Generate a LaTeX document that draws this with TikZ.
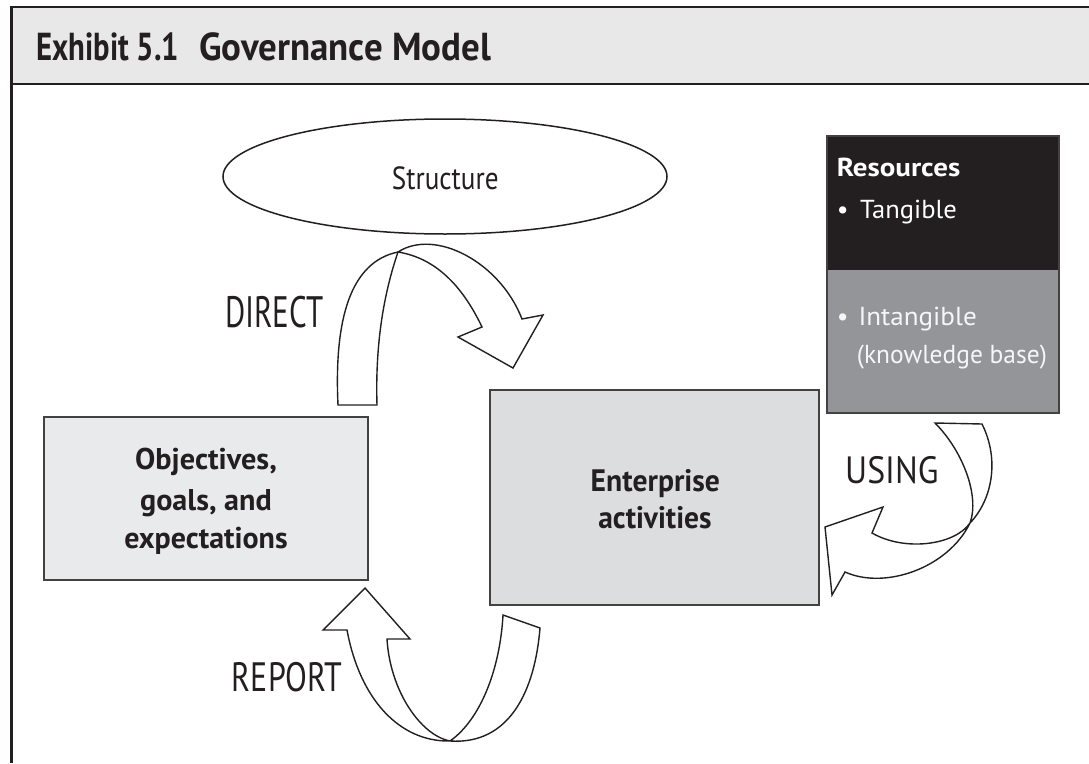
\documentclass[tikz,border=0pt]{standalone}
\usepackage{graphicx}
\usepackage{fontspec}
\setmainfont{PT Sans}
\usetikzlibrary{shapes.geometric}
\definecolor{ink}{HTML}{231F20}
\definecolor{hdr}{HTML}{E8E8E8}
\definecolor{objfill}{HTML}{E9EAEC}
\definecolor{entfill}{HTML}{DCDDDF}
\definecolor{resdark}{HTML}{231F20}
\definecolor{resgray}{HTML}{939598}
\newcommand{\fitw}[2]{\resizebox{#1}{\height}{#2}}
\begin{document}
\begin{tikzpicture}[x=1pt,y=-1pt,
  boxnode/.style={draw=ink!85, line width=2pt, inner sep=0pt, align=center, text=ink},
  boxtext/.style={anchor=base, inner sep=0pt, text=ink, font=\bfseries\fontsize{30}{30}\selectfont},
  blockarrow/.style={draw=ink, line width=1.4pt, fill=white, line join=miter},
  lbl/.style={anchor=base west, inner sep=0pt, text=ink},
  restext/.style={anchor=base west, inner sep=0pt, text=white, font=\fontsize{26}{26}\selectfont}]
\useasboundingbox (0,0) rectangle (1089,763);
% frame and header
\fill[hdr] (11.4,7) rectangle (1089,83.7);
\draw[ink, line width=2.2pt] (1089,7) -- (11.4,7) -- (11.4,763);
\draw[ink, line width=2pt] (11.4,83.7) -- (1089,83.7);
\node[lbl, font=\bfseries\fontsize{39}{39}\selectfont] (t1) at (36.2,60.3) {\fitw{142.8pt}{Exhibit 5.1}};
\node[lbl, font=\bfseries\fontsize{39}{39}\selectfont] (t2) at (199,60.3) {\fitw{291.7pt}{Governance Model}};
% structure ellipse
\node[ellipse, draw=ink, line width=1.5pt, fill=white, minimum width=444pt, minimum height=115pt, inner sep=0pt] (st) at (445,176.5) {};
\node[lbl, font=\fontsize{32}{32}\selectfont] (stl) at (391.7,189) {\fitw{106.7pt}{Structure}};
% resources
\fill[resdark] (827,136) rectangle (1059,270);
\fill[resgray] (827,270) rectangle (1059,413);
\draw[ink!85, line width=2pt] (827,136) rectangle (1059,413);
\coordinate (res) at (943,275);
\node[restext, font=\bfseries\fontsize{26}{26}\selectfont] (r1) at (836.7,176.7) {\fitw{123.3pt}{Resources}};
\node[restext] (r2) at (836.7,218.3) {\makebox[23.3pt][l]{•}\fitw{96.7pt}{Tangible}};
\node[restext, text=white!93!gray] (r3) at (836.7,325) {\makebox[21.6pt][l]{•}\fitw{118.3pt}{Intangible}};
\node[restext, text=white!93!gray] (r4) at (856.7,363.3) {\fitw{190pt}{(knowledge base)}};
% boxes
\node[boxnode, fill=objfill, minimum width=324pt, minimum height=163pt] (obj) at (206,498.5) {};
\node[boxtext] (o1) at (206,469.3) {\fitw{141.7pt}{Objectives,}};
\node[boxtext] (o2) at (206,510.7) {\fitw{131.7pt}{goals, and}};
\node[boxtext] (o3) at (206,548.3) {\fitw{163.3pt}{expectations}};
\node[boxnode, fill=entfill, minimum width=329pt, minimum height=215pt] (ent) at (654.5,497.5) {};
\node[boxtext, font=\bfseries\fontsize{31}{31}\selectfont] (e1) at (655.3,491.7) {\fitw{129.3pt}{Enterprise}};
\node[boxtext, font=\bfseries\fontsize{31}{31}\selectfont] (e2) at (655,528.3) {\fitw{113.3pt}{activities}};
% DIRECT arrow
\draw[blockarrow] (338,405) .. controls (334,320) and (350,262) .. (398,252)
  .. controls (435,228) and (500,262) .. (522,319) -- (543,315) -- (513,368) -- (458,337) -- (482,327)
  .. controls (462,285) and (435,258) .. (398,252)
  .. controls (385,290) and (375,340) .. (377,405) -- cycle;
% USING arrow
\draw[blockarrow] (935,423) -- (982,424) .. controls (1000,460) and (992,500) .. (970,523)
  .. controls (948,568) and (885,590) .. (845,572) -- (832,595) -- (825,527) -- (883,507) -- (872,533)
  .. controls (905,552) and (955,545) .. (970,523)
  .. controls (980,495) and (962,450) .. (935,423) -- cycle;
% REPORT arrow
\draw[blockarrow] (503,615) -- (540,628) .. controls (535,690) and (510,745) .. (450,741)
  .. controls (400,742) and (360,700) .. (347,630) -- (323,630) -- (365,588) -- (410,639) -- (387,639)
  .. controls (390,690) and (420,735) .. (450,741)
  .. controls (480,720) and (500,670) .. (503,615) -- cycle;
% labels
\node[lbl, font=\fontsize{44}{44}\selectfont] (direct) at (225,327) {\fitw{98.3pt}{DIRECT}};
\node[lbl, font=\fontsize{38}{38}\selectfont] (using) at (845,483.3) {\fitw{93.3pt}{USING}};
\node[lbl, font=\fontsize{41}{41}\selectfont] (report) at (231.7,691.7) {\fitw{110pt}{REPORT}};
\end{tikzpicture}
\end{document}
